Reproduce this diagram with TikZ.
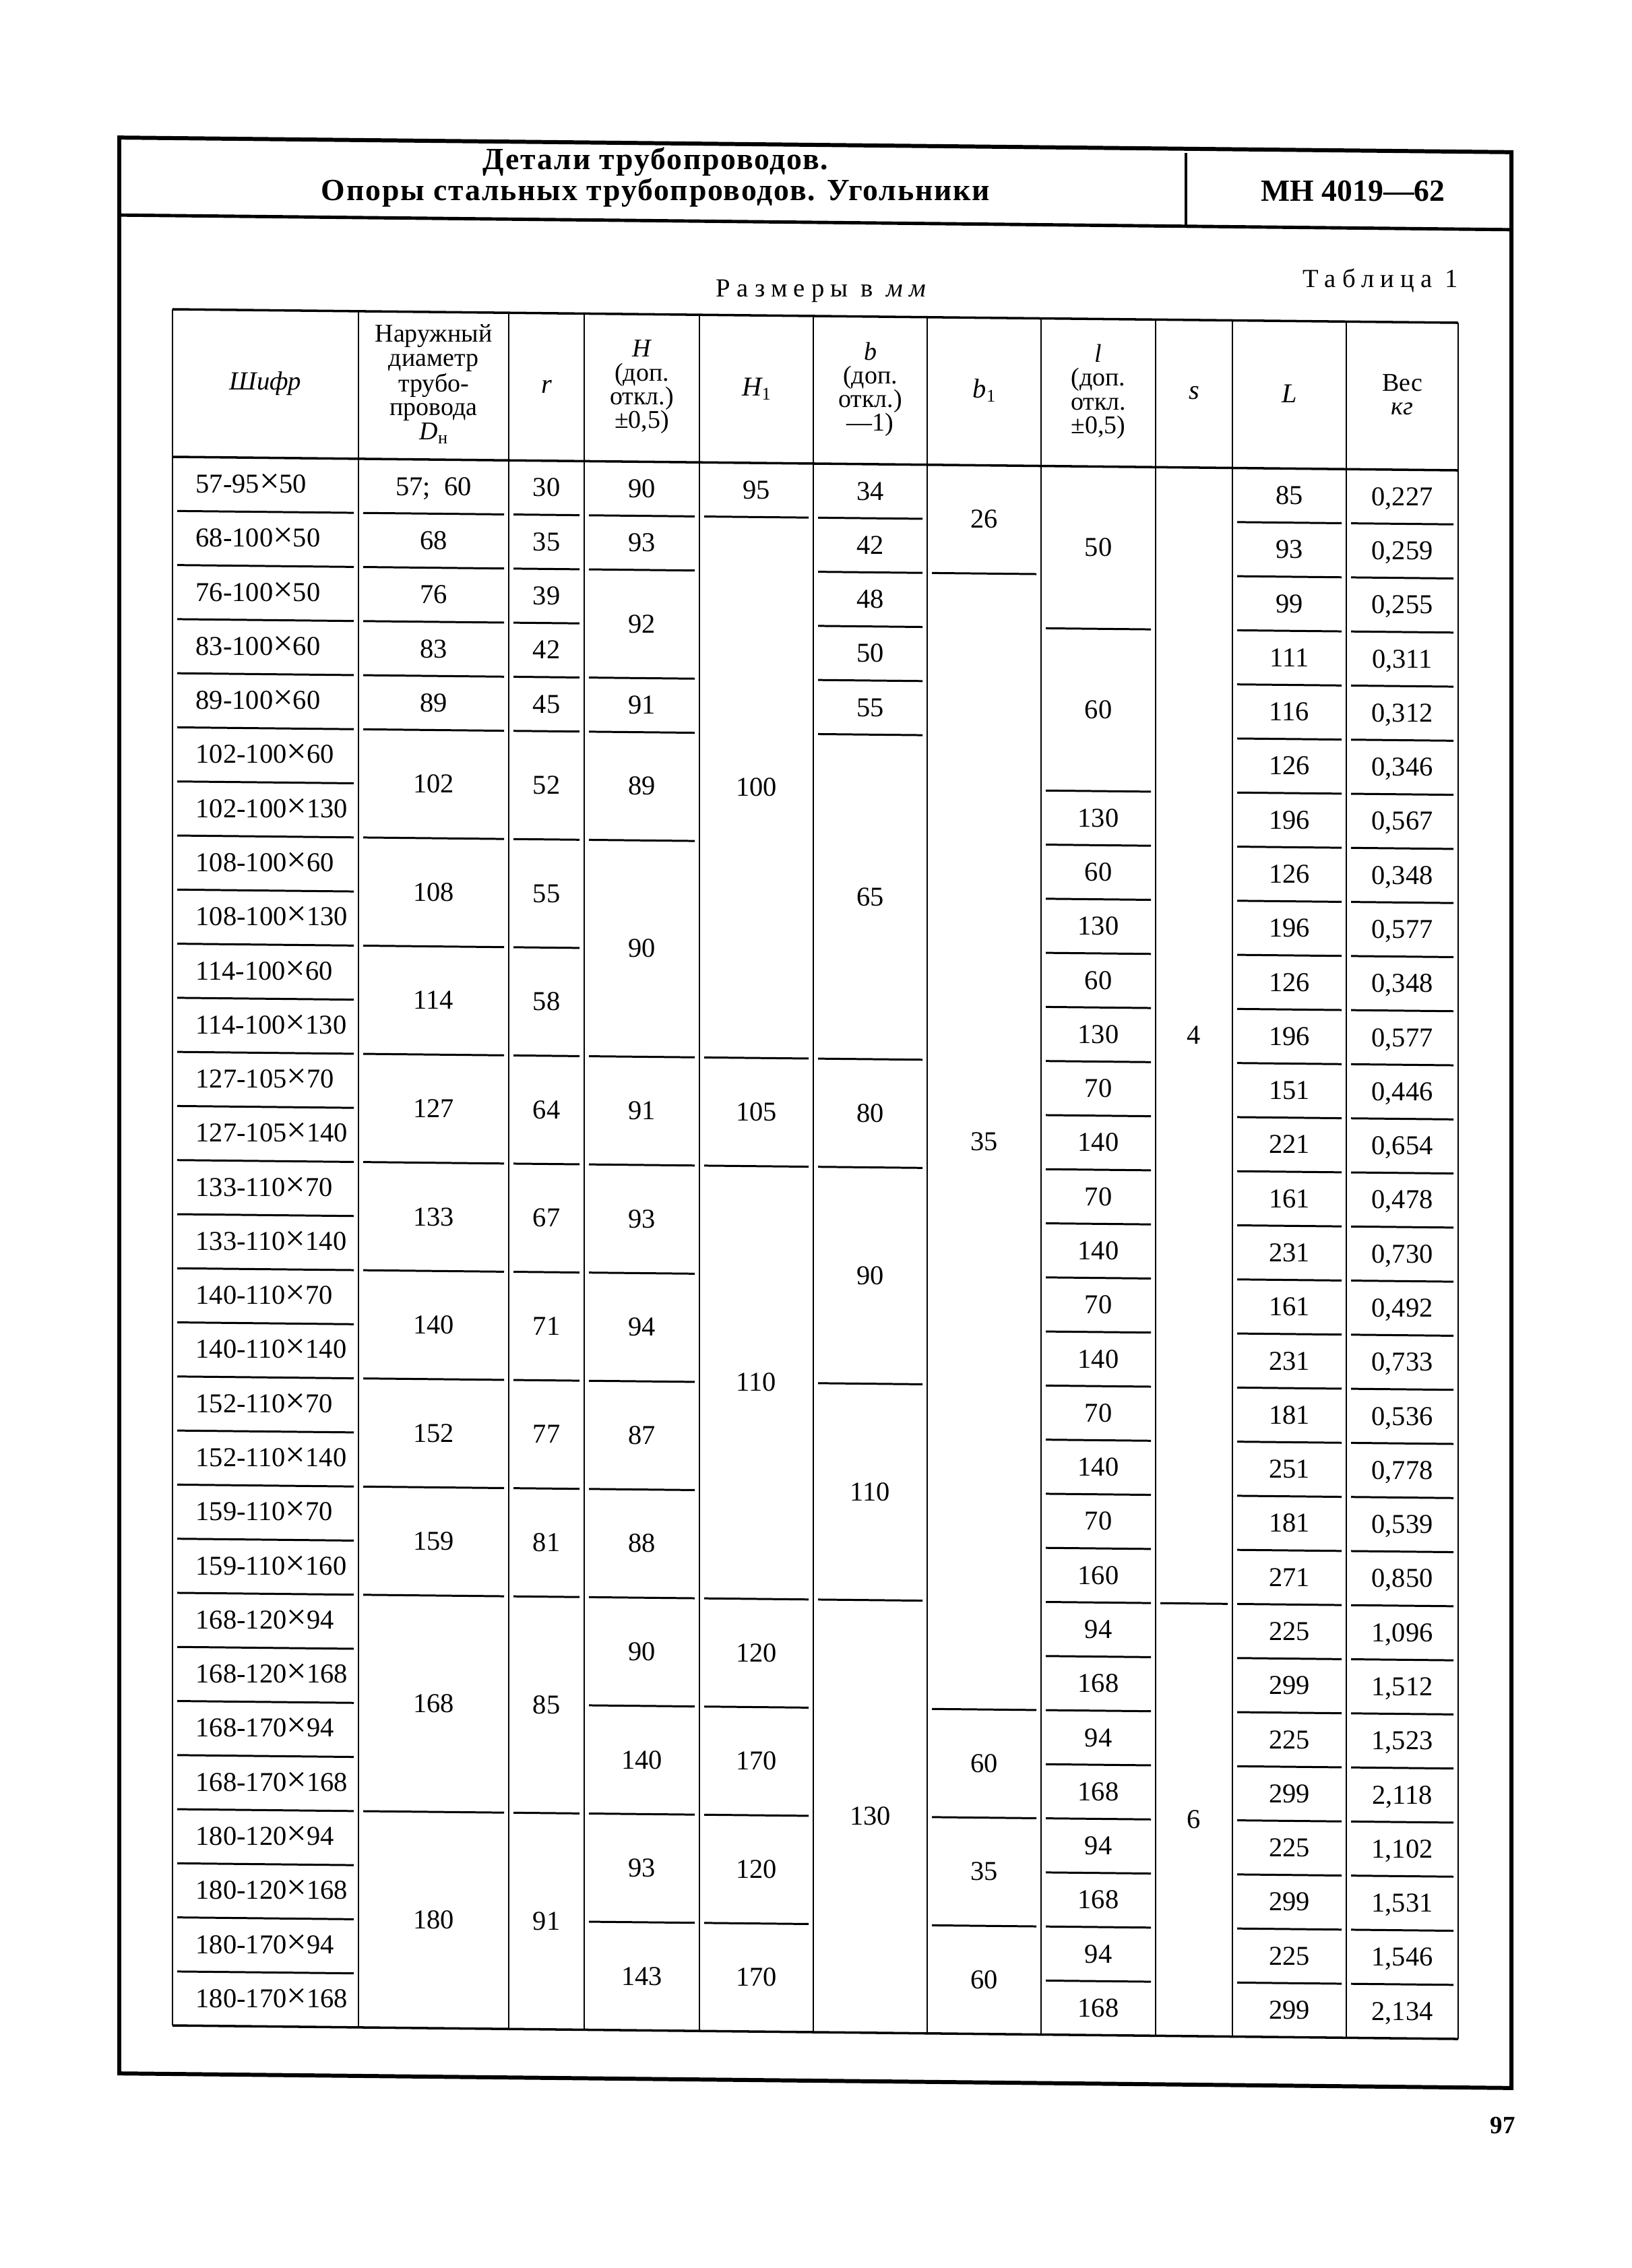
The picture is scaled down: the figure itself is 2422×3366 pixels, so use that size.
\documentclass[tikz,border=0pt]{standalone}
\usepackage{fontspec}
\usepackage{graphicx}
\setmainfont{Liberation Serif}
\newfontfamily\spacedfont[LetterSpace=24]{Liberation Serif}
\newfontfamily\titlefont[LetterSpace=4]{Liberation Serif}
\newcommand\X{\scalebox{1.3}{×}}
\newcommand\sub[1]{\raisebox{-0.35ex}{\fontsize{7.5}{7.5}\selectfont #1}}
\newcommand\sepcol[3]{\foreach \k in {#3}{\draw[sepline] ({#1+7},{688+\k*80.28}) -- ({#2-7},{688+\k*80.28});}}
\begin{document}
\begin{tikzpicture}[x=0.01cm,y=-0.01cm,
  frame/.style={line width=1.7pt},
  rule/.style={line width=1.4pt},
  thinline/.style={line width=0.6pt},
  tabrule/.style={line width=1.0pt},
  sepline/.style={line width=0.85pt},
  cell/.style={font=\fontsize{11.5}{12}\selectfont, inner sep=0pt, anchor=base},
  head/.style={font=\fontsize{10.8}{10}\selectfont, align=center, inner sep=0pt, anchor=center},
  title/.style={font=\titlefont\bfseries\fontsize{13}{14}\selectfont, inner sep=0pt, anchor=base}]
\useasboundingbox (0,0) rectangle (2422,3366);
\begin{scope}[shift={(0,-12.7)}, yslant=-0.0105]
% outer frame
\draw[frame] (177,215) rectangle (2243,3088);
\draw[rule] (177,330) -- (2243,330);
\draw[line width=0.9pt] (1760,221) -- (1760,330);
% title block
\node[title] (t1) at (973,254) {Детали трубопроводов.};
\node[title] (t2) at (973,300) {Опоры стальных трубопроводов. Угольники};
\node[font=\bfseries\fontsize{13}{14}\selectfont, inner sep=0pt, anchor=base] (mh) at (2008,290) {МН 4019—62};
\node[font=\spacedfont\fontsize{11}{12}\selectfont, inner sep=0pt, anchor=base] (razm) at (1223,440) {Размеры в \textit{мм}};
\node[font=\spacedfont\fontsize{11}{12}\selectfont, inner sep=0pt, anchor=base east] (tabl) at (2165,416) {Таблица 1};
\node[font=\bfseries\fontsize{10.5}{11}\selectfont, inner sep=0pt] (page) at (2230,3144) {97};
% table rules
\draw[tabrule] (256,469) -- (2164,469);
\draw[tabrule] (256,688) -- (2164,688);
\draw[tabrule] (256,3016) -- (2164,3016);
\foreach \x in {256,532,755,867,1038,1207,1376,1545,1715,1829,1998,2164}
  {\draw[thinline] (\x,469) -- (\x,3016);}
% header cells
\node[head, font=\fontsize{11}{11}\selectfont] (hshifr) at (394,578) {\itshape Шифр};
\node[head] (hdn) at (643.5,576) {Наружный\\диаметр\\трубо-\\провода\\{\itshape D}\sub{н}};
\node[head, font=\fontsize{11.5}{11}\selectfont] (hr) at (811,578) {\itshape r};
\node[head] (hh) at (952.5,577) {{\itshape H}\\(доп.\\откл.)\\±0,5)};
\node[head, font=\fontsize{11.5}{11}\selectfont] (hh1) at (1122.5,578) {{\itshape H}\sub{1}};
\node[head] (hb) at (1291.5,577) {{\itshape b}\\(доп.\\откл.)\\—1)};
\node[head, font=\fontsize{11.5}{11}\selectfont] (hb1) at (1460.5,577) {{\itshape b}\sub{1}};
\node[head] (hl) at (1630,577) {{\itshape l}\\(доп.\\откл.\\±0,5)};
\node[head, font=\fontsize{11.5}{11}\selectfont] (hs) at (1772,577) {\itshape s};
\node[head, font=\fontsize{11.5}{11}\selectfont] (hL) at (1913.5,577) {\itshape L};
\node[head] (hw) at (2081,577) {Вес\\{\itshape кг}};
% row separators
\sepcol{256}{532}{1,...,28}
\sepcol{532}{755}{1,2,3,4,5,7,9,11,13,15,17,19,21,25}
\sepcol{755}{867}{1,2,3,4,5,7,9,11,13,15,17,19,21,25}
\sepcol{867}{1038}{1,2,4,5,7,11,13,15,17,19,21,23,25,27}
\sepcol{1038}{1207}{1,11,13,21,23,25,27}
\sepcol{1207}{1376}{1,2,3,4,5,11,13,17,21}
\sepcol{1376}{1545}{2,23,25,27}
\sepcol{1545}{1715}{3,6,7,8,...,28}
\sepcol{1715}{1829}{21}
\sepcol{1829}{1998}{1,...,28}
\sepcol{1998}{2164}{1,...,28}
% data: Шифр
\foreach \i/\t in {1/57-95\X50, 2/68-100\X50, 3/76-100\X50, 4/83-100\X60, 5/89-100\X60,
  6/102-100\X60, 7/102-100\X130, 8/108-100\X60, 9/108-100\X130, 10/114-100\X60,
  11/114-100\X130, 12/127-105\X70, 13/127-105\X140, 14/133-110\X70, 15/133-110\X140,
  16/140-110\X70, 17/140-110\X140, 18/152-110\X70, 19/152-110\X140, 20/159-110\X70,
  21/159-110\X160, 22/168-120\X94, 23/168-120\X168, 24/168-170\X94, 25/168-170\X168,
  26/180-120\X94, 27/180-120\X168, 28/180-170\X94, 29/180-170\X168}
  {\node[cell, anchor=base west] (sh\i) at (290,{701+(2*\i-1)*40.14}) {\t};}
% Dн
\foreach \a/\b/\t in {1/1/{57;\enspace 60}, 2/2/68, 3/3/76, 4/4/83, 5/5/89, 6/7/102, 8/9/108,
  10/11/114, 12/13/127, 14/15/133, 16/17/140, 18/19/152, 20/21/159, 22/25/168, 26/29/180}
  {\node[cell] (dn\a) at (643.5,{701+(\a+\b-1)*40.14}) {\t};}
% r
\foreach \a/\b/\t in {1/1/30, 2/2/35, 3/3/39, 4/4/42, 5/5/45, 6/7/52, 8/9/55, 10/11/58,
  12/13/64, 14/15/67, 16/17/71, 18/19/77, 20/21/81, 22/25/85, 26/29/91}
  {\node[cell] (rr\a) at (811,{701+(\a+\b-1)*40.14}) {\t};}
% H
\foreach \a/\b/\t in {1/1/90, 2/2/93, 3/4/92, 5/5/91, 6/7/89, 8/11/90, 12/13/91, 14/15/93,
  16/17/94, 18/19/87, 20/21/88, 22/23/90, 24/25/140, 26/27/93, 28/29/143}
  {\node[cell] (hv\a) at (952.5,{701+(\a+\b-1)*40.14}) {\t};}
% H1
\foreach \a/\b/\t in {1/1/95, 2/11/100, 12/13/105, 14/21/110, 22/23/120, 24/25/170, 26/27/120, 28/29/170}
  {\node[cell] (ho\a) at (1122.5,{701+(\a+\b-1)*40.14}) {\t};}
% b
\foreach \a/\b/\t in {1/1/34, 2/2/42, 3/3/48, 4/4/50, 5/5/55, 6/11/65, 12/13/80, 14/17/90, 18/21/110, 22/29/130}
  {\node[cell] (bv\a) at (1291.5,{701+(\a+\b-1)*40.14}) {\t};}
% b1
\foreach \a/\b/\t in {1/2/26, 3/23/35, 24/25/60, 26/27/35, 28/29/60}
  {\node[cell] (bo\a) at (1460.5,{701+(\a+\b-1)*40.14}) {\t};}
% l
\foreach \a/\b/\t in {1/3/50, 4/6/60, 7/7/130, 8/8/60, 9/9/130, 10/10/60, 11/11/130, 12/12/70,
  13/13/140, 14/14/70, 15/15/140, 16/16/70, 17/17/140, 18/18/70, 19/19/140, 20/20/70,
  21/21/160, 22/22/94, 23/23/168, 24/24/94, 25/25/168, 26/26/94, 27/27/168, 28/28/94, 29/29/168}
  {\node[cell] (lv\a) at (1630,{701+(\a+\b-1)*40.14}) {\t};}
% s
\node[cell] (ss1) at (1772,{701+21*40.14}) {4};
\node[cell] (ss22) at (1772,{701+50*40.14}) {6};
% L
\foreach \i/\t in {1/85, 2/93, 3/99, 4/111, 5/116, 6/126, 7/196, 8/126, 9/196, 10/126, 11/196,
  12/151, 13/221, 14/161, 15/231, 16/161, 17/231, 18/181, 19/251, 20/181, 21/271, 22/225,
  23/299, 24/225, 25/299, 26/225, 27/299, 28/225, 29/299}
  {\node[cell] (LL\i) at (1913.5,{701+(2*\i-1)*40.14}) {\t};}
% weight
\foreach \i/\t in {1/{0,227}, 2/{0,259}, 3/{0,255}, 4/{0,311}, 5/{0,312}, 6/{0,346}, 7/{0,567},
  8/{0,348}, 9/{0,577}, 10/{0,348}, 11/{0,577}, 12/{0,446}, 13/{0,654}, 14/{0,478}, 15/{0,730},
  16/{0,492}, 17/{0,733}, 18/{0,536}, 19/{0,778}, 20/{0,539}, 21/{0,850}, 22/{1,096}, 23/{1,512},
  24/{1,523}, 25/{2,118}, 26/{1,102}, 27/{1,531}, 28/{1,546}, 29/{2,134}}
  {\node[cell] (ww\i) at (2081,{701+(2*\i-1)*40.14}) {\t};}
\end{scope}
\end{tikzpicture}
\end{document}
